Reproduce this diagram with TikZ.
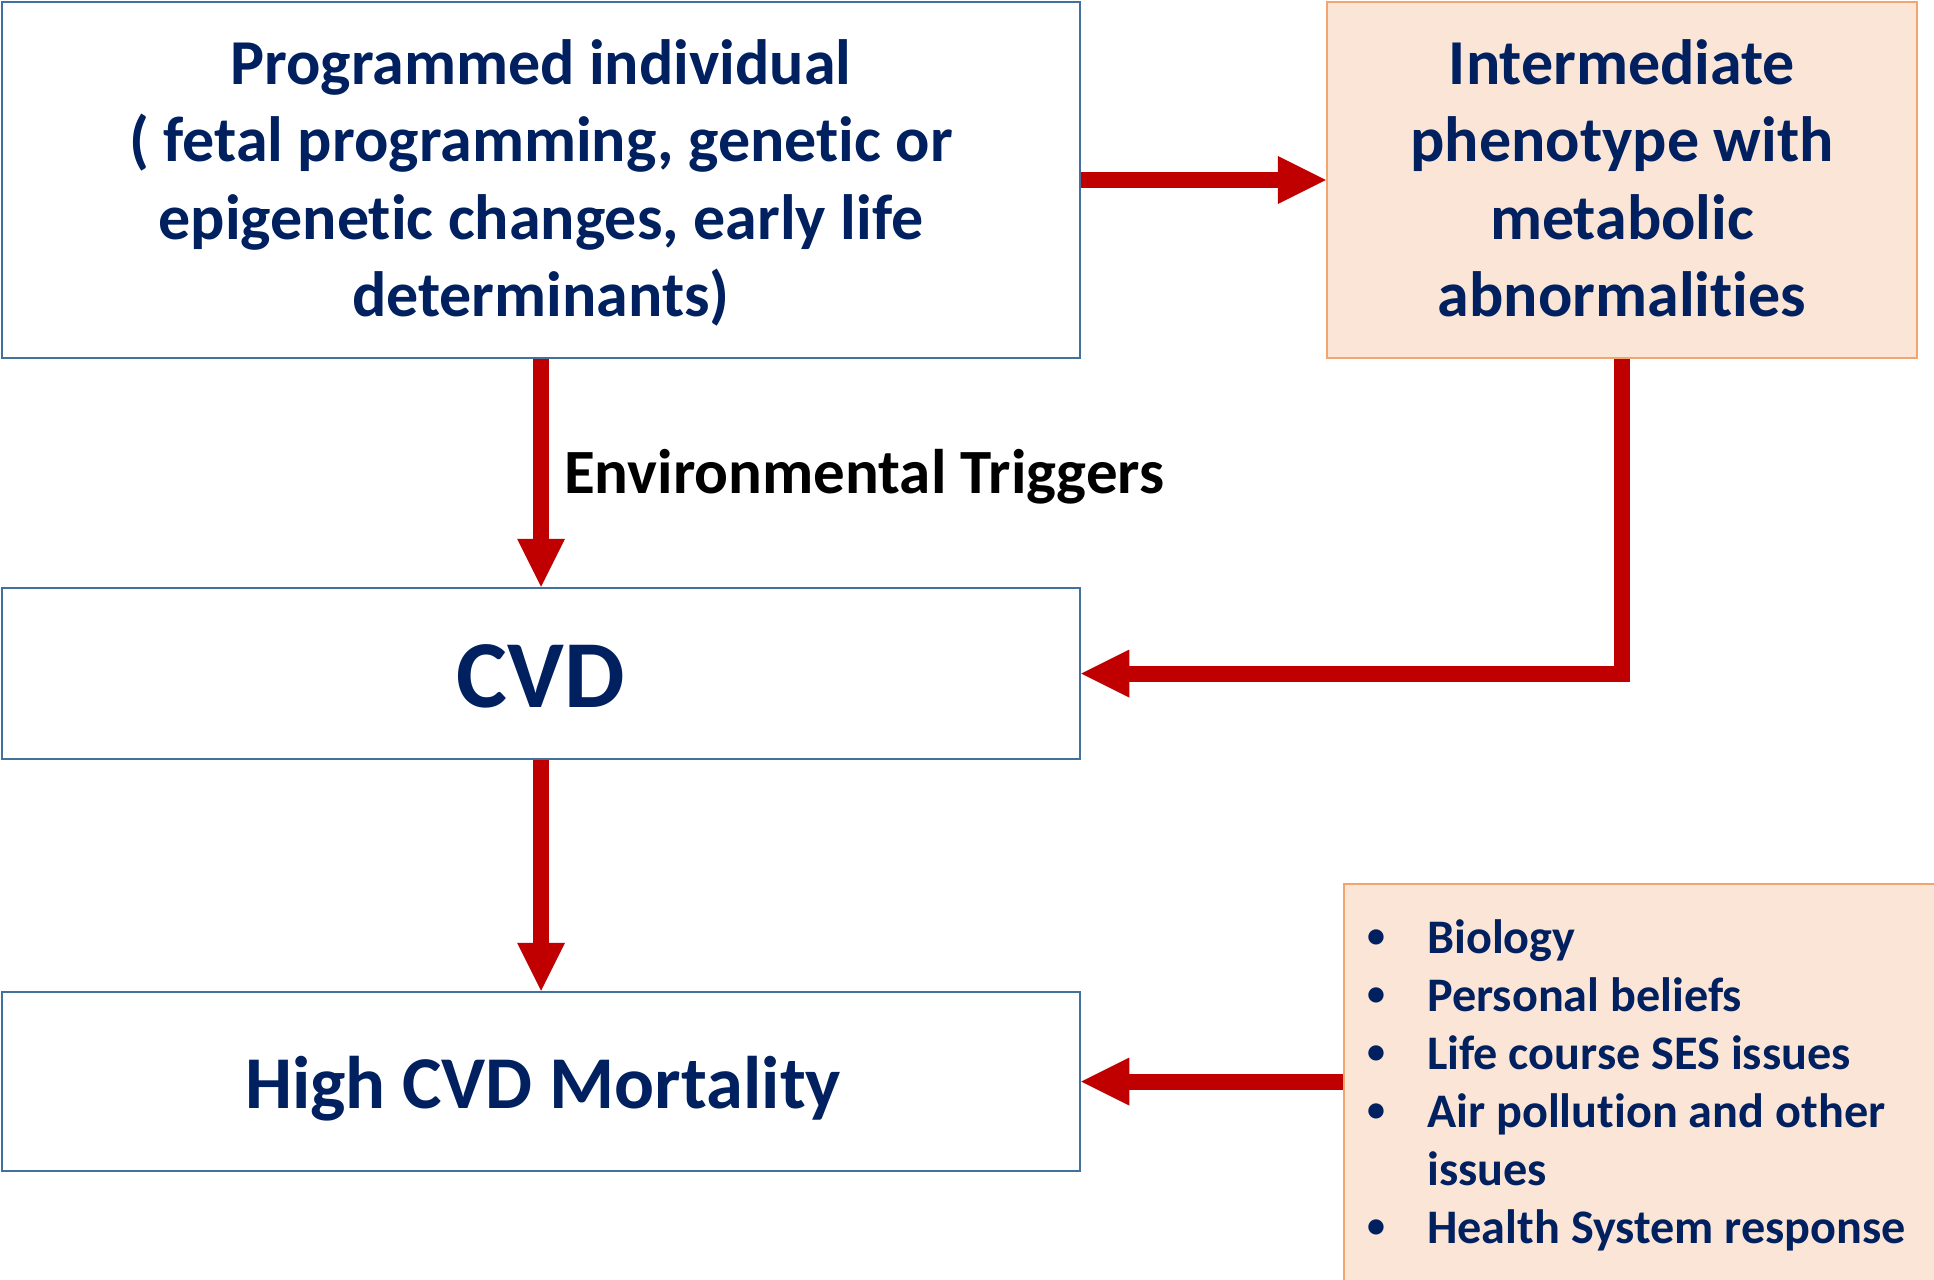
\documentclass[tikz,border=0pt]{standalone}
\usepackage{fontspec}
\setmainfont{Carlito}[Ligatures={NoCommon}]
\usetikzlibrary{arrows.meta}
\definecolor{navy}{HTML}{002060}
\definecolor{boxblue}{HTML}{41719C}
\definecolor{peach}{HTML}{FBE5D6}
\definecolor{peachline}{HTML}{F4A46E}
\definecolor{arrred}{HTML}{C00000}
\newcommand{\blt}{\makebox[60pt][l]{\raisebox{5.5pt}{\fontsize{36}{36}\selectfont\textbullet}}}
\tikzset{
  bluebox/.style={draw=boxblue, line width=2.5pt, fill=white, rectangle, inner sep=0pt},
  peachbox/.style={draw=peachline, line width=2.5pt, fill=peach, rectangle, inner sep=0pt},
  boxtext/.style={anchor=base, inner sep=0pt, align=flush center, text=navy},
  redarrow/.style={draw=arrred, line width=16pt, line join=miter, -{Triangle[length=48pt,width=48pt,line width=0pt]}, arrred}
}
\begin{document}
\begin{tikzpicture}[x=1pt,y=-1pt]
\useasboundingbox (0,0) rectangle (1934,1279);
\node[bluebox, minimum width=1078pt, minimum height=356pt] (prog) at (541,180) {};
\node[boxtext, text width=1000pt, font=\bfseries\fontsize{64}{77}\selectfont] (progtxt) at (541,85)
  {Programmed individual\\( fetal programming, genetic or\\epigenetic changes, early life\\determinants)};
\node[peachbox, minimum width=590pt, minimum height=356pt] (inter) at (1622,180) {};
\node[boxtext, text width=560pt, font=\bfseries\fontsize{64}{77}\selectfont] (intertxt) at (1622,85)
  {Intermediate\\phenotype with\\metabolic\\abnormalities};
\node[bluebox, minimum width=1078pt, minimum height=171pt] (cvd) at (541,673.5) {};
\node[boxtext, font=\bfseries\fontsize{96}{110}\selectfont] (cvdtxt) at (541,707) {CVD};
\node[bluebox, minimum width=1078pt, minimum height=179pt] (mort) at (541,1081.5) {};
\node[boxtext, font=\bfseries\fontsize{74.5}{88}\selectfont] (morttxt) at (543,1108) {High CVD Mortality};
\node[peachbox, minimum width=596pt, minimum height=406pt] (fact) at (1642,1087) {};
\node[anchor=base west, inner sep=0pt, text width=560pt, align=flush left, text=navy, font=\bfseries\fontsize{48.2}{58}\selectfont] (list) at (1367,953)
  {\blt Biology\\
   \blt Personal beliefs\\
   \blt Life course SES issues\\
   \blt Air pollution and other\\
   \hspace*{60pt}issues\\
   \blt Health System response};
\node[anchor=base west, inner sep=0pt, font=\bfseries\fontsize{63}{76}\selectfont] (env) at (564,493) {Environmental Triggers};
\draw[redarrow] (prog.east) -- (inter.west);
\draw[redarrow] (prog.south) -- (cvd.north);
\draw[redarrow] (inter.south) |- (cvd.east);
\draw[redarrow] (cvd.south) -- (mort.north);
\draw[redarrow] (fact.west |- mort.east) -- (mort.east);
\end{tikzpicture}
\end{document}
